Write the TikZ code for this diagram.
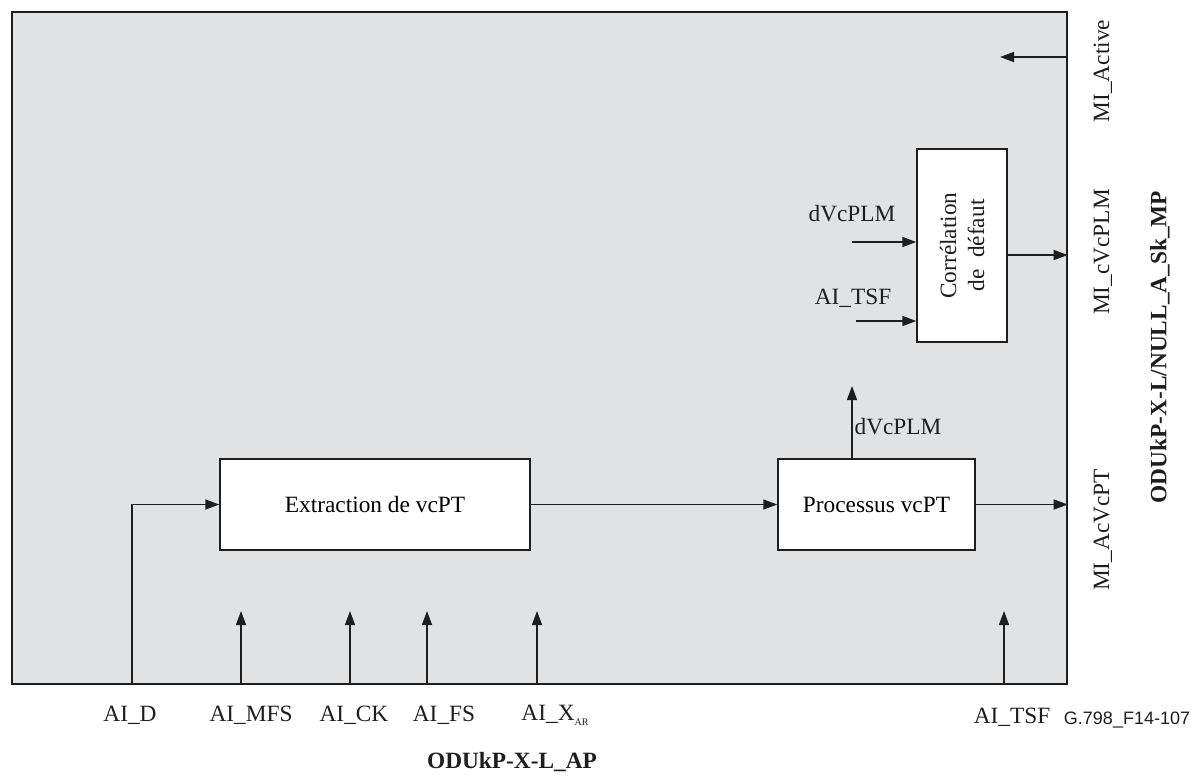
\documentclass[tikz,border=0pt]{standalone}
\usepackage{fontspec}
\setmainfont{Liberation Serif}
\newfontfamily\lsans{Liberation Sans}
\usetikzlibrary{arrows.meta}
\definecolor{fbgray}{RGB}{225,226,228}
\definecolor{ink}{RGB}{30,30,30}
\tikzset{
  blk/.style={draw=ink, line width=1.1pt, fill=white, inner sep=0pt, align=center, font=\fontsize{17.5}{21}\selectfont},
  arr/.style={draw=ink, line width=1.1pt, -{Triangle[length=10.5pt,width=7.5pt]}},
  lbl/.style={inner sep=0pt, font=\fontsize{17.5}{21}\selectfont, text=ink},
  blbl/.style={inner sep=0pt, font=\fontsize{17.5}{21}\selectfont\bfseries, text=ink},
}
\begin{document}
\begin{tikzpicture}[x=0.75pt,y=-0.75pt]
\useasboundingbox (0,0) rectangle (1192,776);
% outer function box
\node[draw=ink, line width=1.1pt, fill=fbgray, minimum width=791.25pt, minimum height=504pt, inner sep=0pt] (fb) at (539.5,348) {};
% blocks
\node[blk, minimum width=232.5pt, minimum height=68.25pt] (ext) at (375,504.5) {Extraction de vcPT};
\node[blk, minimum width=147.75pt, minimum height=68.25pt] (proc) at (876.5,504.5) {Processus vcPT};
\node[blk, minimum width=67.5pt, minimum height=144.75pt] (corr) at (962,245.5) {};
\node[lbl, rotate=90, align=center] (corrtxt) at (962,245.5) {Corrélation\\de\ \ défaut};
% coordinates
\coordinate (aid) at (132,684);
\coordinate (mfsB) at (241,684); \coordinate (mfsT) at (241,611);
\coordinate (ckB) at (350,684); \coordinate (ckT) at (350,611);
\coordinate (fsB) at (427,684); \coordinate (fsT) at (427,611);
\coordinate (xarB) at (537,684); \coordinate (xarT) at (537,611);
\coordinate (tsfB) at (1004,684); \coordinate (tsfT) at (1004,611);
\coordinate (actR) at (1067,57); \coordinate (actL) at (1000,57);
\coordinate (dvin) at (852,242);
\coordinate (tsfin) at (856,321);
\coordinate (dvup) at (852,386);
% connectors
\draw[arr] (aid) |- (ext.west);
\draw[arr] (ext.east) -- (proc.west);
\draw[arr] (proc.east) -- (proc.east -| fb.east);
\draw[arr] (proc.north -| dvup) -- (dvup);
\draw[arr] (dvin) -- (dvin -| corr.west);
\draw[arr] (tsfin) -- (tsfin -| corr.west);
\draw[arr] (corr.east |- 0,255) -- (fb.east |- 0,255);
\draw[arr] (actR) -- (actL);
\draw[arr] (mfsB) -- (mfsT);
\draw[arr] (ckB) -- (ckT);
\draw[arr] (fsB) -- (fsT);
\draw[arr] (xarB) -- (xarT);
\draw[arr] (tsfB) -- (tsfT);
% inner labels
\node[lbl] (l1) at (852,214) {dVcPLM};
\node[lbl] (l2) at (853,298) {AI\_TSF};
\node[lbl] (l3) at (898,427) {dVcPLM};
% bottom labels
\node[lbl] (b1) at (130,715) {AI\_D};
\node[lbl] (b2) at (251,715) {AI\_MFS};
\node[lbl] (b3) at (354,715) {AI\_CK};
\node[lbl] (b4) at (444,715) {AI\_FS};
\node[lbl] (b5) at (555,715) {AI\_X\raisebox{-0.45ex}{\fontsize{7.5}{8}\selectfont AR}};
\node[lbl] (b6) at (1012,717) {AI\_TSF};
\node[inner sep=0pt, font=\lsans\fontsize{13.5}{15}\selectfont, text=ink] (fig) at (1127,720) {G.798\_F14-107};
\node[blbl] (ap) at (512,762) {ODUkP-X-L\_AP};
% right labels
\node[lbl, rotate=90] (r1) at (1103,71) {MI\_Active};
\node[lbl, rotate=90] (r2) at (1103,252) {MI\_cVcPLM};
\node[lbl, rotate=90] (r3) at (1103,530) {MI\_AcVcPT};
\node[blbl, rotate=90] (mp) at (1160,347) {ODUkP-X-L/NULL\_A\_Sk\_MP};
\end{tikzpicture}
\end{document}
